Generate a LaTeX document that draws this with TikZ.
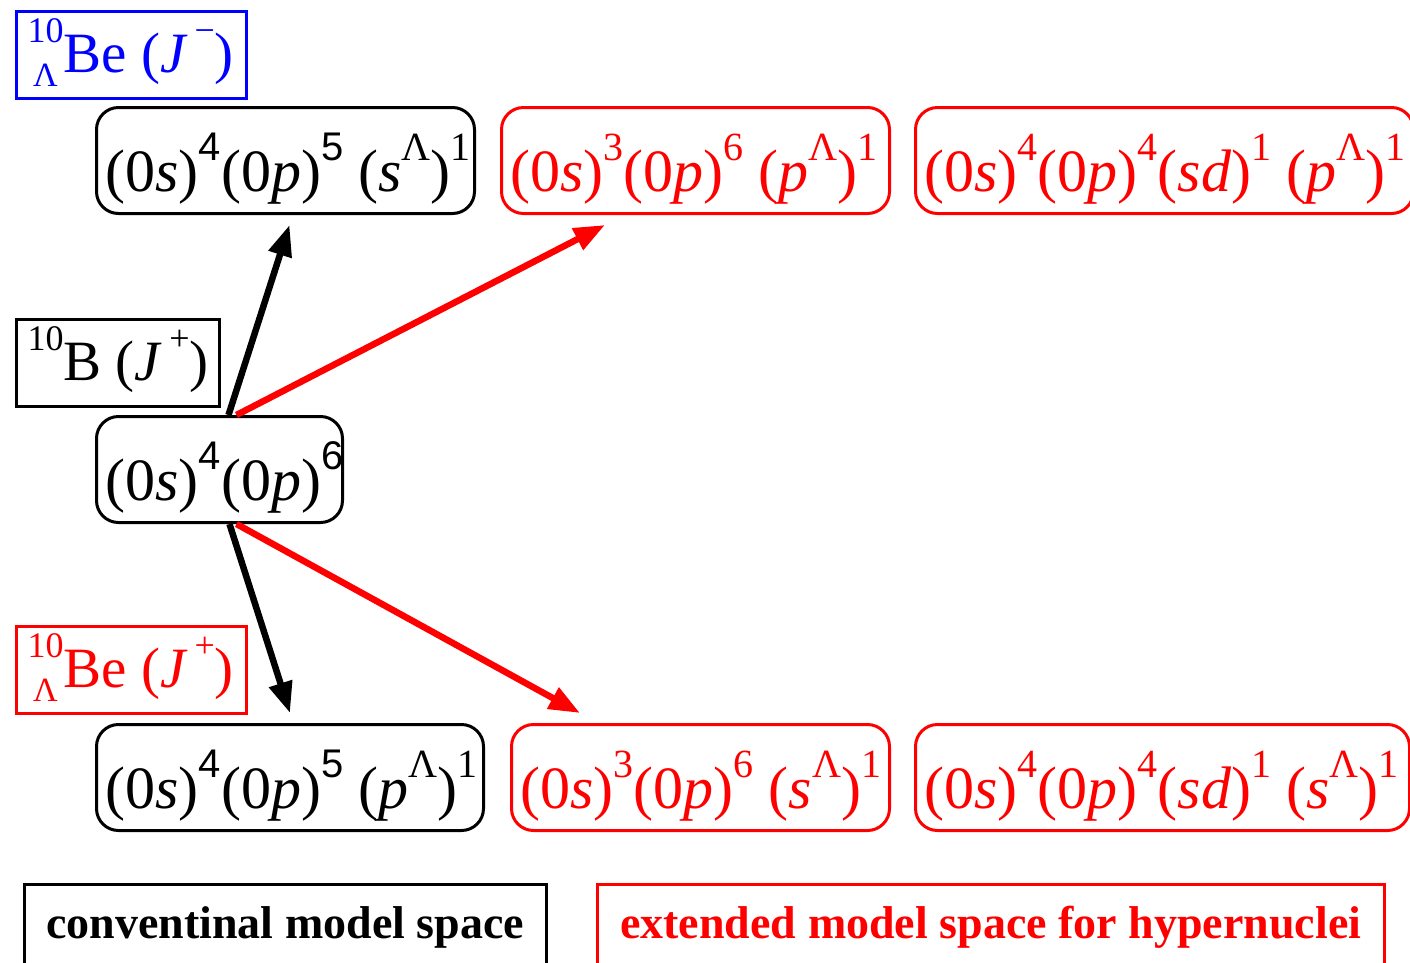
\documentclass[tikz,border=0pt]{standalone}
\usepackage{fontspec}
\setmainfont{Liberation Serif}
\setsansfont{Liberation Sans}
\usetikzlibrary{arrows.meta,calc}
\newcommand\supr[1]{\raisebox{0.52em}{\fontsize{40}{40}\selectfont #1}}
\newcommand\lsup[1]{\raisebox{0.52em}{\fontsize{36}{36}\selectfont #1}}
\newcommand\lsub[1]{\raisebox{-0.24em}{\fontsize{34}{34}\selectfont #1}}
\newcommand\hyp[1]{\rlap{\lsup{10}}\makebox[36pt][c]{\lsub{Λ}}#1}
\newcommand\jpar[1]{(\textit{J}\kern7pt\lsup{#1})}
\begin{document}
\begin{tikzpicture}[x=1pt,y=-1pt,
  conf/.style={draw, rounded corners=22pt, line width=3pt, inner xsep=9pt, inner ysep=0pt,
    text height=84pt, text depth=22pt, anchor=north west, font=\fontsize{60}{62}\selectfont},
  lab/.style={draw, line width=3pt, inner xsep=11pt, inner ysep=0pt,
    text height=61pt, text depth=26pt, anchor=north west, font=\fontsize{57}{59}\selectfont},
  legend/.style={draw, line width=2.5pt, inner sep=0pt, text height=54pt, text depth=60pt,
    anchor=north west, font=\fontsize{46}{48}\selectfont\bfseries},
  arr/.style={line width=6.5pt, -{Triangle[length=31pt,width=23pt]}}]
\useasboundingbox (0,0) rectangle (1410,962);
% labels
\node[lab, blue] (lb) at (15,10) {\makebox[208pt][l]{\hyp{Be} \jpar{−}}};
\node[lab] (lB) at (15,318) {\makebox[181pt][l]{\lsup{10}B \jpar{+}}};
\node[lab, red] (lr) at (15,625) {\makebox[208pt][l]{\hyp{Be} \jpar{+}}};
% configuration boxes
\node[conf] (b1) at (95,106) {\makebox[360pt][l]{(0\textit{s})\supr{\textsf{4}}(0\textit{p})\supr{\textsf{5}} (\textit{s}\supr{Λ})\supr{1}}};
\node[conf, red] (b2) at (500,106) {\makebox[370pt][l]{(0\textit{s})\supr{3}(0\textit{p})\supr{6} (\textit{p}\supr{Λ})\supr{1}}};
\node[conf, red] (b3) at (914,106) {\makebox[480pt][l]{(0\textit{s})\supr{4}(0\textit{p})\supr{4}(\textit{sd})\supr{1} (\textit{p}\supr{Λ})\supr{1}}};
\node[conf] (c) at (95,415) {\makebox[228pt][l]{(0\textit{s})\supr{\textsf{4}}(0\textit{p})\supr{\textsf{6}}}};
\node[conf] (d1) at (95,723) {\makebox[369pt][l]{(0\textit{s})\supr{\textsf{4}}(0\textit{p})\supr{\textsf{5}} (\textit{p}\supr{Λ})\supr{1}}};
\node[conf, red] (d2) at (510,723) {\makebox[360pt][l]{(0\textit{s})\supr{3}(0\textit{p})\supr{6} (\textit{s}\supr{Λ})\supr{1}}};
\node[conf, red] (d3) at (914,723) {\makebox[476pt][l]{(0\textit{s})\supr{4}(0\textit{p})\supr{4}(\textit{sd})\supr{1} (\textit{s}\supr{Λ})\supr{1}}};
% legend
\node[legend, minimum width=522pt] (g1) at (23,883) {conventinal model space};
\node[legend, red, minimum width=787pt] (g2) at (596,883) {extended model space for hypernuclei};
% arrows
\draw[arr] ($(c.north)+(9,0)$) -- ($(b1.south)+(4,10)$);
\draw[arr, red] ($(c.north)+(17,0)$) -- ($(b2.south west)+(105,10)$);
\draw[arr] ($(c.south)+(10,0)$) -- ($(d1.north)+(0,-10)$);
\draw[arr, red] ($(c.south)+(17,0)$) -- ($(d2.north west)+(70,-10)$);
\end{tikzpicture}
\end{document}
